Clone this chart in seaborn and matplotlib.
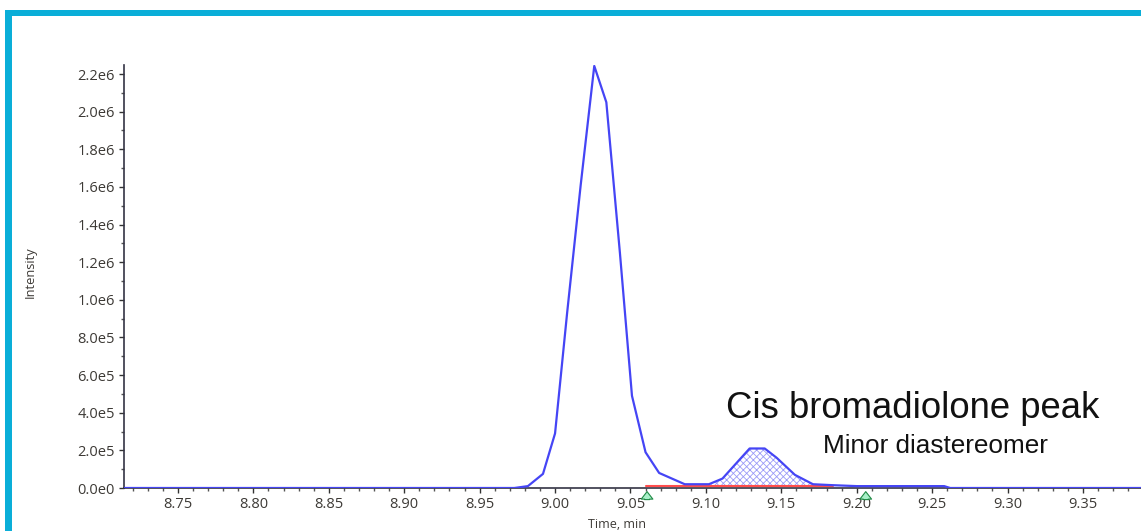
import numpy as np
import pandas as pd
import matplotlib
matplotlib.use("Agg")
import matplotlib.pyplot as plt
from matplotlib.ticker import MultipleLocator, FuncFormatter, FixedLocator
from matplotlib.patches import Rectangle
import seaborn as sns

# ---- data ----
time_min = [8.700, 8.973, 8.982, 8.992, 9.000, 9.008, 9.017, 9.026, 9.034, 9.043,
            9.051, 9.060, 9.069, 9.086, 9.102, 9.111, 9.120, 9.129, 9.139, 9.147,
            9.159, 9.171, 9.184, 9.200, 9.258, 9.262, 9.400]
intensity = [0, 0, 1.0e4, 7.5e4, 2.9e5, 9.3e5, 1.61e6, 2.243e6, 2.05e6, 1.25e6,
             4.9e5, 1.9e5, 8.0e4, 2.0e4, 2.0e4, 5.0e4, 1.3e5, 2.1e5, 2.1e5, 1.6e5,
             7.0e4, 2.0e4, 1.5e4, 1.0e4, 1.0e4, 0, 0]

baseline_start, baseline_end, baseline_level = 9.060, 9.184, 1.2e4
area_start, area_end = 9.102, 9.184
marker_times = [9.061, 9.206]

x_ticks = [8.75, 8.80, 8.85, 8.90, 8.95, 9.00, 9.05, 9.10, 9.15, 9.20, 9.25, 9.30, 9.35]
y_ticks = [0, 2e5, 4e5, 6e5, 8e5, 1.0e6, 1.2e6, 1.4e6, 1.6e6, 1.8e6, 2.0e6, 2.2e6]

title_text = "Cis bromadiolone peak"
subtitle_text = "Minor diastereomer"

df = pd.DataFrame({"Time, min": time_min, "Intensity": intensity})

sns.set_theme(style="ticks")
plt.rcParams["font.family"] = ["Open Sans", "DejaVu Sans"]
plt.rcParams["hatch.linewidth"] = 0.6

W, H = 1141, 531
fig = plt.figure(figsize=(W / 100, H / 100), dpi=100)
fig.patch.set_facecolor("white")

# cyan frame (top and left bands)
cyan = "#0aaed8"
fig.patches.append(Rectangle((5 / W, 1 - 16 / H), 1, 6 / H, transform=fig.transFigure,
                             facecolor=cyan, edgecolor="none", zorder=0))
fig.patches.append(Rectangle((5 / W, -0.1), 7 / W, 1 - 10 / H + 0.1, transform=fig.transFigure,
                             facecolor=cyan, edgecolor="none", zorder=0))

ax = fig.add_axes([124 / W, 43 / H, 1 - 124 / W, 423 / H])
ax.set_facecolor("white")

# hatched integrated area of the minor peak
t = np.array(time_min)
yv = np.array(intensity)
mask = (t >= area_start) & (t <= area_end)
ax.fill_between(t[mask], baseline_level, yv[mask], facecolor="none",
                edgecolor=(0.35, 0.35, 0.95, 0.6), hatch="xxxxx", linewidth=0, zorder=2)

# integration baseline
ax.plot([baseline_start, baseline_end], [baseline_level, baseline_level],
        color="#ff4d4d", lw=1.5, zorder=3)

sns.lineplot(data=df, x="Time, min", y="Intensity", ax=ax, color="#4545f5",
             lw=1.6, zorder=4, estimator=None, sort=False)

ax.set_xlim(8.7142, 9.3885)
ax.set_ylim(0, 2.248e6)

ax.xaxis.set_major_locator(FixedLocator(x_ticks))
ax.xaxis.set_minor_locator(MultipleLocator(0.01))
ax.yaxis.set_major_locator(FixedLocator(y_ticks))
ax.yaxis.set_minor_locator(MultipleLocator(1e5))


def sci_fmt(v, pos):
    if v == 0:
        return "0.0e0"
    e = int(np.floor(np.log10(abs(v))))
    m = v / 10 ** e
    return f"{m:.1f}e{e}"


ax.yaxis.set_major_formatter(FuncFormatter(sci_fmt))
ax.xaxis.set_major_formatter(FuncFormatter(lambda v, p: f"{v:.2f}"))

tick_color = "#3d3a36"
ax.tick_params(axis="both", which="major", length=3.5, width=1, color="#333333",
               labelsize=10.5, labelcolor=tick_color, pad=3)
ax.tick_params(axis="both", which="minor", length=2, width=1, color="#555555")

for s in ["top", "right"]:
    ax.spines[s].set_visible(False)
for s in ["left", "bottom"]:
    ax.spines[s].set_color("#333344")
    ax.spines[s].set_linewidth(1.2)

ax.set_xlabel("Time, min", fontsize=9, color=tick_color, labelpad=3)
ax.set_ylabel("Intensity", fontsize=9.3, color=tick_color, labelpad=0)
ax.yaxis.set_label_coords(-87 / (W - 124), 0.51)
ax.xaxis.set_label_coords((617 - 124) / (W - 124), -30 / 423)

# green peak-limit markers
for mt in marker_times:
    ax.annotate("", xy=(mt, -0.002), xytext=(mt, -0.034),
                xycoords=ax.get_xaxis_transform(), textcoords=ax.get_xaxis_transform(),
                arrowprops=dict(arrowstyle="simple,head_width=0.7,head_length=0.45,tail_width=0.3",
                                fc="#a8f0c8", ec="#1f8a45", lw=0.8),
                annotation_clip=False, zorder=6)

ax.text(9.1134, 3.72e5, title_text, fontsize=26.3, family=["Liberation Sans", "DejaVu Sans"],
        color="#111111", va="baseline", ha="left")
ax.text(9.1777, 1.86e5, subtitle_text, fontsize=18.8, family=["Liberation Sans", "DejaVu Sans"],
        color="#111111", va="baseline", ha="left")

if ax.get_legend() is not None:
    ax.get_legend().remove()

fig.savefig("out.png", dpi=100, facecolor="white")
